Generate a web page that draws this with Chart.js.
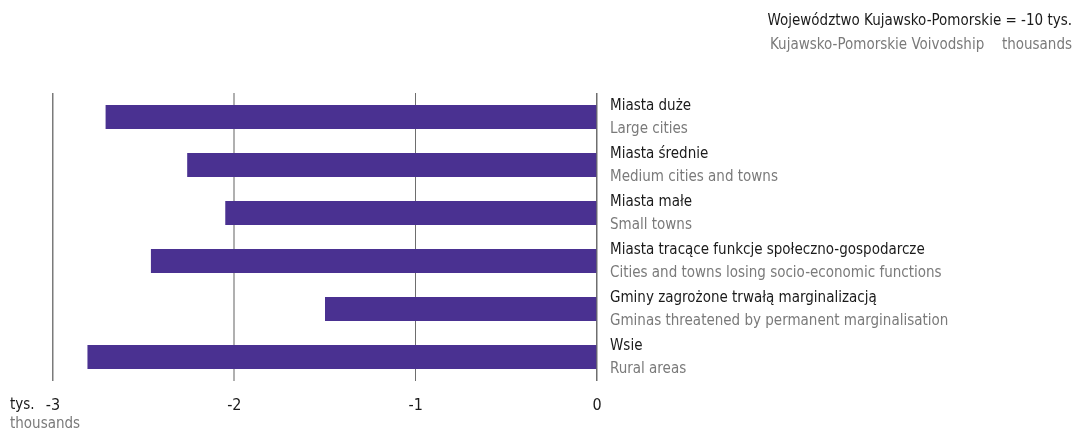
<!DOCTYPE html>
<html>
<head>
<meta charset="utf-8">
<script src="https://cdn.jsdelivr.net/npm/chart.js@4/dist/chart.umd.min.js"></script>
<style>
  html, body { margin: 0; padding: 0; background: #fff; }
  #wrap { width: 1074px; height: 434px; position: relative; }
</style>
</head>
<body>
<div id="wrap"><canvas id="chart" width="1074" height="434"></canvas></div>
<script>
// categories (Polish / English), values in thousands
let labelsPl = ['Miasta duże', 'Miasta średnie', 'Miasta małe',
    'Miasta tracące funkcje społeczno-gospodarcze',
    'Gminy zagrożone trwałą marginalizacją', 'Wsie'];
let labelsEn = ['Large cities', 'Medium cities and towns', 'Small towns',
    'Cities and towns losing socio-economic functions',
    'Gminas threatened by permanent marginalisation', 'Rural areas'];
let values = [-2.71, -2.26, -2.05, -2.46, -1.50, -2.81];

let titlePl = 'Województwo Kujawsko-Pomorskie = -10 tys.';
let titleEnLeft = 'Kujawsko-Pomorskie Voivodship';
let titleEnRight = 'thousands';
let unitPl = 'tys.';
let unitEn = 'thousands';

let fontFamily = '"Liberation Sans Narrow", "DejaVu Sans Condensed", "Roboto", sans-serif';
let black = '#1a1a1a';
let grey = '#7a7a7a';

// draws the two-line category labels, the top note and the unit label
let textPlugin = {
    id: 'texts',
    afterDraw(chart) {
        let ctx = chart.ctx;
        let y = chart.scales.y;
        let left = chart.chartArea.right + 13;
        ctx.save();
        ctx.textBaseline = 'middle';
        ctx.textAlign = 'left';
        ctx.font = '15px ' + fontFamily;
        labelsPl.forEach((lab, i) => {
            let cy = y.getPixelForValue(i);
            ctx.fillStyle = black;
            ctx.fillText(lab, left, cy - 11);
            ctx.fillStyle = grey;
            ctx.fillText(labelsEn[i], left, cy + 12);
        });

        ctx.textAlign = 'right';
        ctx.fillStyle = black;
        ctx.fillText(titlePl, 1072, 21);
        ctx.fillStyle = grey;
        ctx.fillText(titleEnRight, 1072, 45);
        ctx.textAlign = 'left';
        ctx.fillText(titleEnLeft, 770, 45);

        ctx.fillStyle = black;
        ctx.fillText(unitPl, 10, 405);
        ctx.fillStyle = grey;
        ctx.fillText(unitEn, 10, 424);
        ctx.restore();
    }
};

let gridColors = ['#7a7a7a', '#b0b0b0', '#6e6e6e', '#6e6e6e'];
let gridWidths = [1.5, 2, 1, 1.5];

new Chart(document.getElementById('chart').getContext('2d'), {
    type: 'bar',
    data: {
        labels: labelsPl,
        datasets: [{
            data: values,
            backgroundColor: '#4a3191',
            borderWidth: 0,
            barPercentage: 0.5,
            categoryPercentage: 1.0
        }]
    },
    plugins: [textPlugin],
    options: {
        indexAxis: 'y',
        responsive: false,
        animation: false,
        devicePixelRatio: 1,
        layout: { padding: { left: 53, right: 477, top: 93, bottom: 0 } },
        plugins: { legend: { display: false }, tooltip: { enabled: false } },
        scales: {
            x: {
                min: -3,
                max: 0,
                border: { display: false },
                grid: {
                    drawTicks: false,
                    color: c => gridColors[c.index] || '#777',
                    lineWidth: c => gridWidths[c.index] || 1
                },
                ticks: {
                    stepSize: 1,
                    padding: 15,
                    color: black,
                    font: { size: 16, family: fontFamily }
                },
                afterFit(scale) { scale.height = 53; }
            },
            y: { display: false }
        }
    }
});
</script>
</body>
</html>
